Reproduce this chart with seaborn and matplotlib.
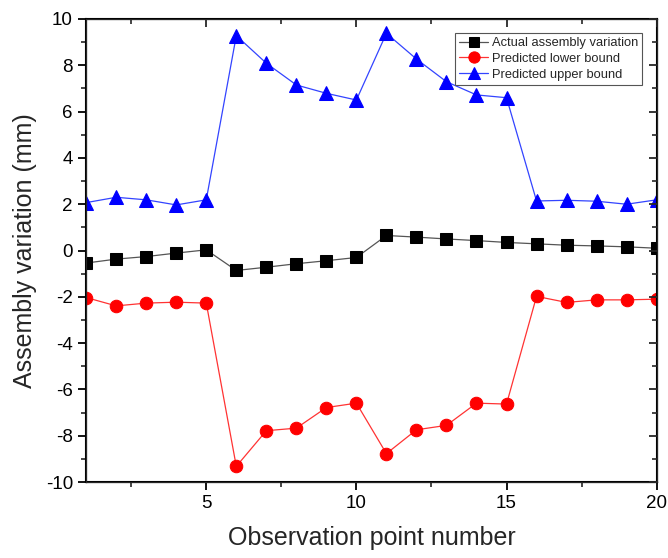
import numpy as np
import pandas as pd
import matplotlib
matplotlib.use("Agg")
import matplotlib.pyplot as plt
import seaborn as sns
from matplotlib.ticker import MultipleLocator, NullFormatter

sns.set_style("ticks")
plt.rcParams['font.family'] = ['Liberation Sans', 'DejaVu Sans']
plt.rcParams['axes.unicode_minus'] = False

# Data
points = list(range(1, 21))
actual = [-0.54, -0.37, -0.26, -0.11, 0.03, -0.86, -0.72, -0.57, -0.44, -0.30,
          0.65, 0.58, 0.50, 0.43, 0.35, 0.29, 0.23, 0.20, 0.16, 0.10]
lower = [-2.03, -2.39, -2.27, -2.23, -2.27, -9.32, -7.78, -7.67, -6.78, -6.59,
         -8.77, -7.74, -7.55, -6.59, -6.63, -1.98, -2.24, -2.13, -2.13, -2.10]
upper = [2.07, 2.30, 2.19, 1.97, 2.19, 9.28, 8.09, 7.15, 6.79, 6.50,
         9.38, 8.27, 7.29, 6.72, 6.60, 2.14, 2.17, 2.13, 2.00, 2.19]

series = [
    ("Actual assembly variation", actual, "black", "#555555", "s", 8),
    ("Predicted lower bound", lower, "red", "#ff3333", "o", 9),
    ("Predicted upper bound", upper, "blue", "#3344ff", "^", 10),
]

fig = plt.figure(figsize=(6.68, 5.58), dpi=100)
ax = fig.add_axes([0.129, 0.136, 0.854, 0.83])

for name, vals, mcol, lcol, mk, ms in series:
    df = pd.DataFrame({"x": points, "y": vals})
    sns.lineplot(data=df, x="x", y="y", ax=ax, color=lcol, linewidth=0.9,
                 marker=mk, markersize=ms, markerfacecolor=mcol,
                 markeredgecolor=mcol, label=name)

ax.set_xlim(1, 20)
ax.set_ylim(-10, 10)
ax.xaxis.set_major_locator(MultipleLocator(5))
ax.xaxis.set_minor_locator(MultipleLocator(2.5))
ax.yaxis.set_major_locator(MultipleLocator(2))
ax.yaxis.set_minor_locator(MultipleLocator(1))

for sp in ax.spines.values():
    sp.set_linewidth(1.5)
    sp.set_color("black")

ax.tick_params(which="major", direction="out", length=6, width=1.3,
               labelsize=13.5, colors="black")
ax.tick_params(which="minor", direction="out", length=3.5, width=1.2)

# mirrored ticks on top and right pointing inward, no labels
top = ax.twiny()
top.set_xlim(ax.get_xlim())
top.xaxis.set_major_locator(MultipleLocator(5))
top.xaxis.set_minor_locator(MultipleLocator(2.5))
top.xaxis.set_major_formatter(NullFormatter())
top.xaxis.set_minor_formatter(NullFormatter())
top.tick_params(which="major", direction="in", length=6, width=1.3)
top.tick_params(which="minor", direction="in", length=3.5, width=1.2)
right = ax.twinx()
right.set_ylim(ax.get_ylim())
right.yaxis.set_major_locator(MultipleLocator(2))
right.yaxis.set_minor_locator(MultipleLocator(1))
right.yaxis.set_major_formatter(NullFormatter())
right.yaxis.set_minor_formatter(NullFormatter())
right.tick_params(which="major", direction="in", length=6, width=1.3)
right.tick_params(which="minor", direction="in", length=3.5, width=1.2)

ax.set_xlabel("Observation point number", fontsize=18, labelpad=10)
ax.set_ylabel("Assembly variation (mm)", fontsize=18, labelpad=6)

leg = ax.legend(loc="upper right", fontsize=9.3, frameon=True, fancybox=False,
                edgecolor="#555555", borderaxespad=1.1, handlelength=2.3,
                handletextpad=0.3, labelspacing=0.3, borderpad=0.3,
                markerscale=0.9)
leg.get_frame().set_linewidth(0.8)
leg.get_frame().set_alpha(1)

fig.savefig("out.png", dpi=100)
